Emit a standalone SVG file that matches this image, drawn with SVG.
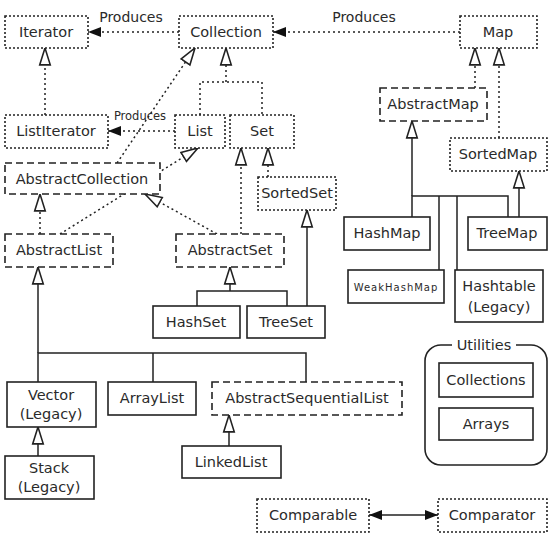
<svg xmlns="http://www.w3.org/2000/svg" width="554" height="536" viewBox="0 0 554 536">
<style>
.box{fill:#fff;stroke:#222;stroke-width:1.6}
.dot{stroke-dasharray:2 2}
.dash{stroke-dasharray:7 4}
.t{font-family:"DejaVu Sans",sans-serif;font-size:14.5px;fill:#2a2a2a;text-anchor:middle;dominant-baseline:central}
.sm{font-size:10px;letter-spacing:1px}
.lbl{font-family:"DejaVu Sans",sans-serif;font-size:14px;fill:#2a2a2a;text-anchor:middle;dominant-baseline:central}
.ln{fill:none;stroke:#222;stroke-width:1.5}
.dl{stroke-dasharray:2 3}
</style>
<defs>
<marker id="tri" markerUnits="userSpaceOnUse" markerWidth="20" markerHeight="14" refX="16" refY="5" orient="auto" viewBox="-1 -1 19 12">
<path d="M0,0 L16,5 L0,10 Z" fill="#fff" stroke="#222" stroke-width="1.5" stroke-dasharray="none"/>
</marker>
<marker id="fill" markerUnits="userSpaceOnUse" markerWidth="16" markerHeight="12" refX="13" refY="5" orient="auto" viewBox="-1 -1 16 12">
<path d="M0,0 L13,5 L0,10 Z" fill="#111" stroke="none"/>
</marker>
<marker id="fillS" markerUnits="userSpaceOnUse" markerWidth="16" markerHeight="12" refX="0" refY="5" orient="auto" viewBox="-1 -1 16 12">
<path d="M13,0 L0,5 L13,10 Z" fill="#111" stroke="none"/>
</marker>
</defs>
<rect width="554" height="536" fill="#fff"/>

<g id="connectors">
<path class="ln dl" d="M179,32 H88" marker-end="url(#fill)"/>
<path class="ln dl" d="M460,32 H273" marker-end="url(#fill)"/>
<path class="ln dl" d="M175,131 H108" marker-end="url(#fill)"/>
<path class="ln dl" d="M45,115 V48" marker-end="url(#tri)"/>
<path class="ln dl" d="M200,115 V82 H262 V115"/>
<path class="ln dl" d="M226,82 V48" marker-end="url(#tri)"/>
<path class="ln dl" d="M117,163 L195,48" marker-end="url(#tri)"/>
<path class="ln dl" d="M60,234 L198,148" marker-end="url(#tri)"/>
<path class="ln dl" d="M40,234 V194" marker-end="url(#tri)"/>
<path class="ln dl" d="M217,234 L145,194" marker-end="url(#tri)"/>
<path class="ln dl" d="M241,234 V148" marker-end="url(#tri)"/>
<path class="ln dl" d="M268,177 V148" marker-end="url(#tri)"/>
<path class="ln" d="M307,306 V210" marker-end="url(#tri)"/>
<path class="ln" d="M197,306 V291 H287 V306"/>
<path class="ln" d="M230,291 V267" marker-end="url(#tri)"/>
<path class="ln" d="M38,382 V353 H306 V382 M153,353 V382"/>
<path class="ln" d="M38,353 V267" marker-end="url(#tri)"/>
<path class="ln" d="M38,456 V427" marker-end="url(#tri)"/>
<path class="ln" d="M229,446 V415" marker-end="url(#tri)"/>
<path class="ln" d="M369,515 H438" marker-start="url(#fillS)" marker-end="url(#fill)"/>
<path class="ln dl" d="M475,88 V48" marker-end="url(#tri)"/>
<path class="ln dl" d="M499,138 V48" marker-end="url(#tri)"/>
<path class="ln" d="M412,217 V196 H508 V217 M439,196 V270 M457,196 V270"/>
<path class="ln" d="M412,196 V121" marker-end="url(#tri)"/>
<path class="ln" d="M519,217 V171" marker-end="url(#tri)"/>
<text class="lbl" x="131" y="17">Produces</text>
<text class="lbl" x="364" y="17">Produces</text>
<text class="lbl" x="140" y="116" style="font-size:11.5px">Produces</text>
</g>

<g id="Iterator"><rect class="box dot" x="5" y="16" width="83" height="32"/><text class="t" x="46" y="32">Iterator</text></g>
<g id="Collection"><rect class="box dot" x="179" y="16" width="94" height="32"/><text class="t" x="226" y="32">Collection</text></g>
<g id="Map"><rect class="box dot" x="460" y="16" width="77" height="32"/><text class="t" x="498" y="32">Map</text></g>
<g id="ListIterator"><rect class="box dot" x="5" y="115" width="103" height="33"/><text class="t" x="56" y="131">ListIterator</text></g>
<g id="List"><rect class="box dot" x="175" y="115" width="50" height="33"/><text class="t" x="200" y="131">List</text></g>
<g id="Set"><rect class="box dot" x="230" y="115" width="64" height="33"/><text class="t" x="262" y="131">Set</text></g>
<g id="AbstractCollection"><rect class="box dash" x="5" y="163" width="155" height="31"/><text class="t" x="82" y="179">AbstractCollection</text></g>
<g id="SortedSet"><rect class="box dot" x="258" y="177" width="78" height="33"/><text class="t" x="297" y="193">SortedSet</text></g>
<g id="AbstractList"><rect class="box dash" x="5" y="234" width="108" height="33"/><text class="t" x="59" y="250">AbstractList</text></g>
<g id="AbstractSet"><rect class="box dash" x="176" y="234" width="108" height="33"/><text class="t" x="230" y="250">AbstractSet</text></g>
<g id="HashSet"><rect class="box" x="153" y="306" width="87" height="32"/><text class="t" x="196" y="322">HashSet</text></g>
<g id="TreeSet"><rect class="box" x="247" y="306" width="78" height="32"/><text class="t" x="286" y="322">TreeSet</text></g>
<g id="AbstractMap"><rect class="box dash" x="380" y="88" width="107" height="33"/><text class="t" x="433" y="104">AbstractMap</text></g>
<g id="SortedMap"><rect class="box dot" x="450" y="138" width="97" height="33"/><text class="t" x="498" y="154">SortedMap</text></g>
<g id="HashMap"><rect class="box" x="344" y="217" width="86" height="33"/><text class="t" x="387" y="233">HashMap</text></g>
<g id="TreeMap"><rect class="box" x="468" y="217" width="79" height="33"/><text class="t" x="507" y="233">TreeMap</text></g>
<g id="WeakHashMap"><rect class="box" x="348" y="270" width="96" height="33"/><text class="t sm" x="396" y="287">WeakHashMap</text></g>
<g id="Hashtable"><rect class="box" x="455" y="270" width="88" height="52"/><text class="t" x="499" y="286">Hashtable</text><text class="t" x="499" y="307">(Legacy)</text></g>
<g id="Vector"><rect class="box" x="7" y="382" width="89" height="45"/><text class="t" x="51" y="395">Vector</text><text class="t" x="51" y="414">(Legacy)</text></g>
<g id="ArrayList"><rect class="box" x="108" y="382" width="88" height="33"/><text class="t" x="152" y="398">ArrayList</text></g>
<g id="AbstractSequentialList"><rect class="box dash" x="212" y="382" width="190" height="33"/><text class="t" x="307" y="398">AbstractSequentialList</text></g>
<g id="Stack"><rect class="box" x="5" y="456" width="89" height="43"/><text class="t" x="49" y="468">Stack</text><text class="t" x="49" y="487">(Legacy)</text></g>
<g id="LinkedList"><rect class="box" x="182" y="446" width="99" height="32"/><text class="t" x="231" y="462">LinkedList</text></g>
<g id="Utilities"><rect class="box" x="425" y="345" width="122" height="120" rx="16" ry="16"/><rect x="452" y="337" width="64" height="16" fill="#fff"/><text class="t" x="484" y="345">Utilities</text>
<g id="Collections"><rect class="box" x="439" y="363" width="94" height="34"/><text class="t" x="486" y="380">Collections</text></g>
<g id="Arrays"><rect class="box" x="439" y="408" width="94" height="32"/><text class="t" x="486" y="424">Arrays</text></g></g>
<g id="Comparable"><rect class="box dot" x="257" y="499" width="112" height="33"/><text class="t" x="313" y="515">Comparable</text></g>
<g id="Comparator"><rect class="box dot" x="438" y="499" width="109" height="33"/><text class="t" x="492" y="515">Comparator</text></g>
</svg>
